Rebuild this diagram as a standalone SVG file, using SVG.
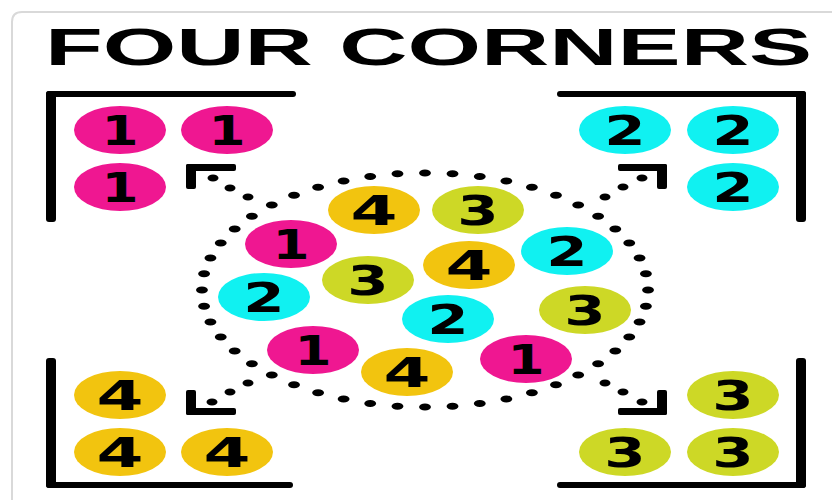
<svg xmlns="http://www.w3.org/2000/svg" width="832" height="500" viewBox="0 0 832 500">
<style>
.t{font-family:"Liberation Sans",Arial,sans-serif;font-weight:bold;fill:#000}
.d{font-family:"DejaVu Sans",sans-serif;font-weight:bold;font-size:41px;fill:#000;text-anchor:middle}
.p{fill:#EF1791}.c{fill:#10F1F1}.o{fill:#F2C40F}.g{fill:#CDD826}
.b{fill:#000}
.dot{fill:#000}
</style>
<rect x="0" y="0" width="832" height="500" fill="#fff"/>
<path d="M12 500 V22 Q12 12 22 12 H840" fill="#fff" stroke="#d9d9d9" stroke-width="2"/>
<text class="t" x="45" y="65" font-size="52" textLength="767" lengthAdjust="spacingAndGlyphs">FOUR CORNERS</text>

<g id="brackets">
<rect class="b" x="46" y="91" width="10" height="131" rx="3"/>
<rect class="b" x="46" y="91" width="250" height="6" rx="3"/>
<rect class="b" x="796" y="91" width="10" height="131" rx="3"/>
<rect class="b" x="557" y="91" width="249" height="6" rx="3"/>
<rect class="b" x="46" y="358" width="10" height="130" rx="3"/>
<rect class="b" x="46" y="482" width="247" height="6" rx="3"/>
<rect class="b" x="796" y="358" width="10" height="130" rx="3"/>
<rect class="b" x="557" y="482" width="249" height="6" rx="3"/>
<rect class="b" x="186" y="164" width="10" height="25" rx="2"/>
<rect class="b" x="186" y="164" width="50" height="7" rx="2"/>
<rect class="b" x="657" y="164" width="10" height="25" rx="2"/>
<rect class="b" x="618" y="164" width="49" height="7" rx="2"/>
<rect class="b" x="186" y="390" width="10" height="25" rx="2"/>
<rect class="b" x="186" y="408" width="50" height="7" rx="2"/>
<rect class="b" x="657" y="390" width="10" height="25" rx="2"/>
<rect class="b" x="618" y="408" width="49" height="7" rx="2"/>
</g>

<g id="connectors">
<g transform="scale(1.7,1)">
<path d="M118.8 290 A131.2 117 0 1 1 381.2 290 A131.2 117 0 1 1 118.8 290 Z" fill="none" stroke="#000" stroke-width="7" stroke-linecap="round" stroke-dasharray="0 1" pathLength="48"/>
</g>
<ellipse class="dot" cx="213" cy="178" rx="5.5" ry="3.5"/>
<ellipse class="dot" cx="230" cy="188" rx="5.5" ry="3.5"/>
<ellipse class="dot" cx="248" cy="197" rx="5.5" ry="3.5"/>
<ellipse class="dot" cx="642" cy="178" rx="5.5" ry="3.5"/>
<ellipse class="dot" cx="623" cy="187" rx="5.5" ry="3.5"/>
<ellipse class="dot" cx="605" cy="197" rx="5.5" ry="3.5"/>
<ellipse class="dot" cx="212" cy="402" rx="5.5" ry="3.5"/>
<ellipse class="dot" cx="230" cy="392" rx="5.5" ry="3.5"/>
<ellipse class="dot" cx="248" cy="383" rx="5.5" ry="3.5"/>
<ellipse class="dot" cx="605" cy="383" rx="5.5" ry="3.5"/>
<ellipse class="dot" cx="623" cy="392" rx="5.5" ry="3.5"/>
<ellipse class="dot" cx="642" cy="402" rx="5.5" ry="3.5"/>
</g>

<g id="tl1"><ellipse class="p" cx="120" cy="130" rx="46" ry="24"/><text class="d" transform="translate(120 145) scale(1.3 1)">1</text></g>
<g id="tl2"><ellipse class="p" cx="227" cy="130" rx="46" ry="24"/><text class="d" transform="translate(227 145) scale(1.3 1)">1</text></g>
<g id="tl3"><ellipse class="p" cx="120" cy="187" rx="46" ry="24"/><text class="d" transform="translate(120 202) scale(1.3 1)">1</text></g>

<g id="tr1"><ellipse class="c" cx="625" cy="130" rx="46" ry="24"/><text class="d" transform="translate(625 145) scale(1.45 1)">2</text></g>
<g id="tr2"><ellipse class="c" cx="733" cy="130" rx="46" ry="24"/><text class="d" transform="translate(733 145) scale(1.45 1)">2</text></g>
<g id="tr3"><ellipse class="c" cx="733" cy="187" rx="46" ry="24"/><text class="d" transform="translate(733 202) scale(1.45 1)">2</text></g>

<g id="bl1"><ellipse class="o" cx="120" cy="395" rx="46" ry="24"/><text class="d" transform="translate(120 410) scale(1.65 1)">4</text></g>
<g id="bl2"><ellipse class="o" cx="120" cy="452" rx="46" ry="24"/><text class="d" transform="translate(120 467) scale(1.65 1)">4</text></g>
<g id="bl3"><ellipse class="o" cx="227" cy="452" rx="46" ry="24"/><text class="d" transform="translate(227 467) scale(1.65 1)">4</text></g>

<g id="br1"><ellipse class="g" cx="733" cy="395" rx="46" ry="24"/><text class="d" transform="translate(733 410) scale(1.45 1)">3</text></g>
<g id="br2"><ellipse class="g" cx="625" cy="452" rx="46" ry="24"/><text class="d" transform="translate(625 467) scale(1.45 1)">3</text></g>
<g id="br3"><ellipse class="g" cx="733" cy="452" rx="46" ry="24"/><text class="d" transform="translate(733 467) scale(1.45 1)">3</text></g>

<g id="m4a"><ellipse class="o" cx="374" cy="210" rx="46" ry="24"/><text class="d" transform="translate(374 225) scale(1.65 1)">4</text></g>
<g id="m3a"><ellipse class="g" cx="478" cy="210" rx="46" ry="24"/><text class="d" transform="translate(478 225) scale(1.45 1)">3</text></g>
<g id="m1a"><ellipse class="p" cx="291" cy="244" rx="46" ry="24"/><text class="d" transform="translate(291 259) scale(1.3 1)">1</text></g>
<g id="m2a"><ellipse class="c" cx="567" cy="251" rx="46" ry="24"/><text class="d" transform="translate(567 266) scale(1.45 1)">2</text></g>
<g id="m4b"><ellipse class="o" cx="469" cy="265" rx="46" ry="24"/><text class="d" transform="translate(469 280) scale(1.65 1)">4</text></g>
<g id="m3b"><ellipse class="g" cx="368" cy="280" rx="46" ry="24"/><text class="d" transform="translate(368 295) scale(1.45 1)">3</text></g>
<g id="m2b"><ellipse class="c" cx="264" cy="297" rx="46" ry="24"/><text class="d" transform="translate(264 312) scale(1.45 1)">2</text></g>
<g id="m3c"><ellipse class="g" cx="585" cy="310" rx="46" ry="24"/><text class="d" transform="translate(585 325) scale(1.45 1)">3</text></g>
<g id="m2c"><ellipse class="c" cx="448" cy="319" rx="46" ry="24"/><text class="d" transform="translate(448 334) scale(1.45 1)">2</text></g>
<g id="m1b"><ellipse class="p" cx="313" cy="350" rx="46" ry="24"/><text class="d" transform="translate(313 365) scale(1.3 1)">1</text></g>
<g id="m4c"><ellipse class="o" cx="407" cy="372" rx="46" ry="24"/><text class="d" transform="translate(407 387) scale(1.65 1)">4</text></g>
<g id="m1c"><ellipse class="p" cx="526" cy="359" rx="46" ry="24"/><text class="d" transform="translate(526 374) scale(1.3 1)">1</text></g>
</svg>
